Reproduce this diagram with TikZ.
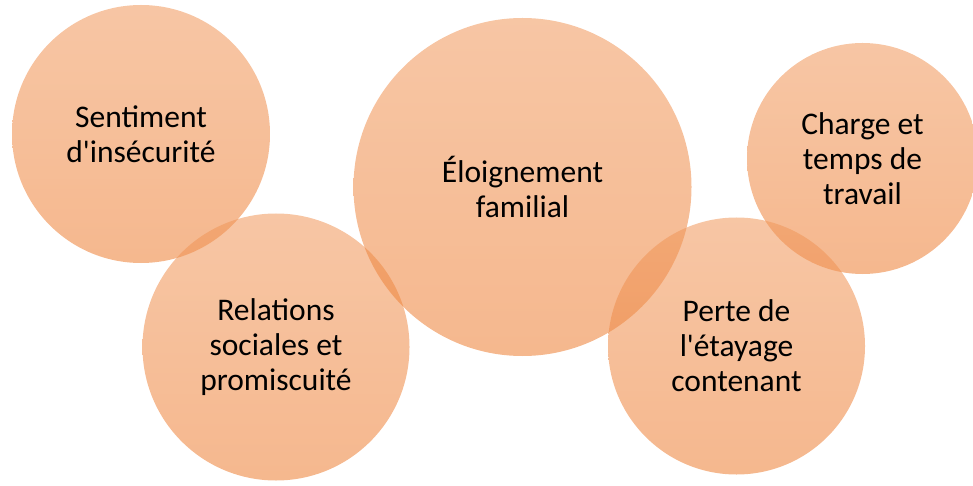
\documentclass[tikz,border=0pt]{standalone}
\usepackage{fontspec}
\setmainfont{Carlito}
\definecolor{acc}{HTML}{ED7D31}
\tikzset{bubble/.style={circle, inner sep=0pt, draw=none, top color=acc!80!white, bottom color=acc, fill opacity=0.55, text opacity=1, text=black, align=center, font=\fontsize{31.5}{35}\selectfont}}
\begin{document}
\begin{tikzpicture}[x=1pt,y=1pt]
\useasboundingbox (0,0) rectangle (973,485);
\node[bubble, minimum size=258] (s) at (141,351) {Sentiment\\d\textquotesingle insécurité};
\node[bubble, minimum size=267] (r) at (276,138) {Relations\\sociales et\\promiscuité};
\node[bubble, minimum size=338] (e) at (522.5,298) {Éloignement\\familial};
\node[bubble, minimum size=231] (c) at (862.5,326.5) {Charge et\\temps de\\travail};
\node[bubble, minimum size=257] (p) at (736.5,139) {Perte de\\l\textquotesingle étayage\\contenant};
\end{tikzpicture}
\end{document}
